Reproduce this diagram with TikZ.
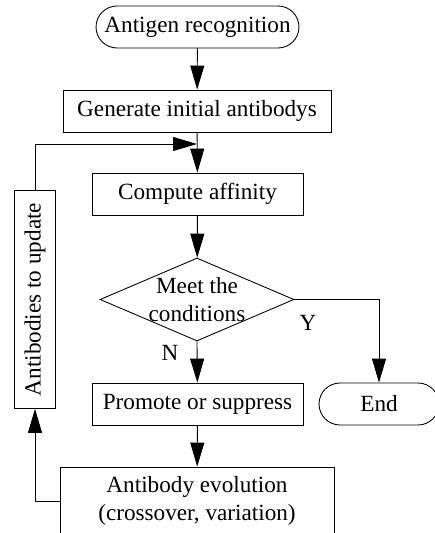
\documentclass[tikz,border=0pt]{standalone}
\usepackage{fontspec}
\setmainfont{Liberation Serif}
\usetikzlibrary{arrows.meta,shapes.geometric,shapes.misc}
\begin{document}
\begin{tikzpicture}[x=0.02cm,y=-0.02cm,line width=0.5pt,
  font=\fontsize{13.2}{16}\selectfont,
  box/.style={draw,rectangle,minimum height=0.84cm,inner sep=0pt,align=center},
  term/.style={draw,rounded rectangle,minimum height=0.84cm,inner sep=0pt},
  test/.style={draw,diamond,minimum width=3.88cm,minimum height=1.66cm,inner sep=0pt},
  arr/.style={-{Triangle[length=0.48cm,width=0.28cm]}}]
\useasboundingbox (0,0) rectangle (434,533);
% main column
\node[term,minimum width=4.06cm] (antigen) at (197.5,27) {Antigen recognition};
\node[box,minimum width=5.36cm] (init) at (197,111) {Generate initial antibodys};
\node[box,minimum width=4.22cm] (affin) at (197.5,194) {Compute affinity};
\node[test] (meet) at (197,299.5) {};
\node[align=center] (meettxt) at (meet) {Meet the\\conditions};
\node[box,minimum width=4.22cm] (promote) at (197.5,404) {Promote or suppress};
\node[box,minimum width=5.48cm,minimum height=1.36cm] (evol) at (197,501) {Antibody evolution\\(crossover, variation)};
% side boxes
\node[term,minimum width=2.4cm] (end) at (379,404) {End};
\node[box,rotate=90,minimum width=4.36cm,minimum height=0.82cm] (update) at (35,299.5) {Antibodies to update};
\coordinate (join) at (197,144);
% arrows
\draw[arr] (antigen) -- (init);
\draw[arr] (init) -- (affin);
\draw[arr] (affin) -- (meet);
\draw[arr] (meet.south) -- node[pos=0.27,left=0.25cm]{N} (promote);
\draw[arr] (meet.east) -| node[pos=0.08,below=0.2cm]{Y} (end.north);
\draw[arr] (promote) -- (evol);
% feedback loop
\draw[arr] (evol.west) -| (update.west);
\draw[arr] (update.east) |- (join);
\end{tikzpicture}
\end{document}
